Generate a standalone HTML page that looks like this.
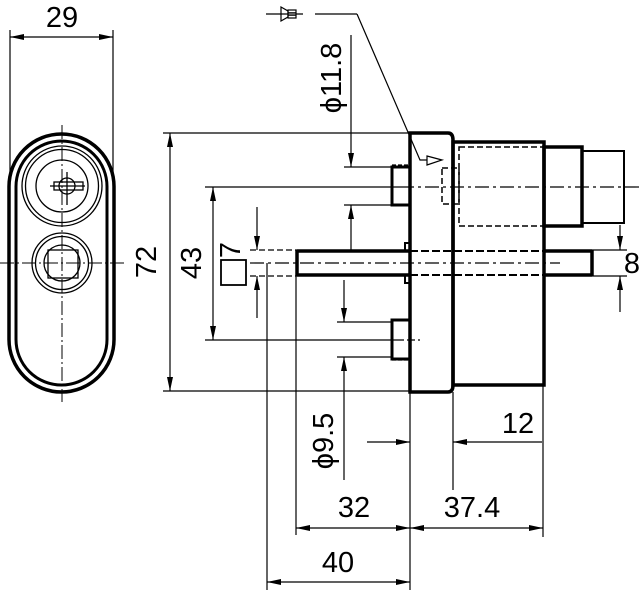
<!DOCTYPE html>
<html><head><meta charset="utf-8"><style>
html,body{margin:0;padding:0;background:#fff;}
svg{display:block;}
text{font-family:"Liberation Sans",sans-serif;font-size:29px;fill:#000;}
</style></head><body>
<svg width="639" height="590" viewBox="0 0 639 590" xmlns="http://www.w3.org/2000/svg">
<defs>
<marker id="a" viewBox="0 0 14 6" refX="14" refY="3" markerWidth="14" markerHeight="6" markerUnits="userSpaceOnUse" orient="auto-start-reverse">
<path d="M0,0 L14,3 L0,6 Z" fill="#000"/>
</marker>
</defs>
<g stroke="#000" fill="none">
<!-- LEFT VIEW -->
<rect x="9" y="134" width="105" height="258" rx="52.5" ry="52.5" stroke-width="3.5"/>
<rect x="16" y="141" width="91" height="244" rx="45.5" ry="45.5" stroke-width="3"/>
<circle cx="62" cy="186" r="40" stroke-width="1.3"/>
<circle cx="62" cy="186" r="36.5" stroke-width="1.3"/>
<circle cx="62" cy="186" r="26" stroke-width="1.3"/>
<circle cx="67" cy="186" r="8" stroke-width="1.3"/>
<rect x="54" y="182" width="29" height="8" stroke-width="1.3"/>
<line x1="67" y1="172" x2="67" y2="205" stroke-width="1.3"/>
<line x1="50" y1="186" x2="85" y2="186" stroke-width="1.3"/>
<circle cx="62" cy="263" r="30" stroke-width="1.3"/>
<circle cx="62" cy="263" r="26.5" stroke-width="1.3"/>
<circle cx="62" cy="263" r="18" stroke-width="1.3"/>
<rect x="48" y="250" width="30" height="28" stroke-width="1.3"/>
<line x1="62" y1="125" x2="62" y2="402" stroke-width="1" stroke-dasharray="14,3,2,3"/>
<line x1="0" y1="263" x2="125" y2="263" stroke-width="1" stroke-dasharray="14,3,2,3"/>
<line x1="20" y1="162" x2="104" y2="162" stroke-width="0"/>
<!-- 29 dim -->
<line x1="10" y1="30" x2="10" y2="180" stroke-width="1.2"/>
<line x1="113" y1="30" x2="113" y2="180" stroke-width="1.2"/>
<line x1="10" y1="37" x2="113" y2="37" stroke-width="1.2" marker-start="url(#a)" marker-end="url(#a)"/>

<!-- SIDE VIEW body -->
<path d="M410,133 H448 Q453,133 453,140 V385 Q453,392 448,392 H410 Z" stroke-width="3.5"/>
<rect x="453" y="142" width="91" height="243" stroke-width="3.5"/>
<rect x="544" y="147" width="38" height="79" stroke-width="3.5"/>
<rect x="582" y="151" width="42" height="72" stroke-width="2"/>
<rect x="459" y="147" width="85" height="79" stroke-width="1.5" stroke-dasharray="6,3"/>
<rect x="442" y="168" width="17" height="36" stroke-width="1.5" stroke-dasharray="6,3"/>
<!-- nubs -->
<path d="M410,167 H392 V205 H410" stroke-width="3"/>
<path d="M410,320 H392 V359 H410" stroke-width="3"/>
<line x1="392" y1="165" x2="410" y2="165" stroke-width="1.2" stroke-dasharray="4,2"/>
<line x1="392" y1="360" x2="410" y2="360" stroke-width="1.2" stroke-dasharray="4,2"/>
<!-- shaft -->
<line x1="297" y1="251" x2="410" y2="251" stroke-width="3.5"/>
<line x1="297" y1="275" x2="410" y2="275" stroke-width="3.5"/>
<line x1="297" y1="249.5" x2="297" y2="276.5" stroke-width="3.5"/>
<line x1="410" y1="251" x2="544" y2="251" stroke-width="2" stroke-dasharray="8,3"/>
<line x1="410" y1="275" x2="544" y2="275" stroke-width="2" stroke-dasharray="8,3"/>
<line x1="544" y1="251" x2="592" y2="251" stroke-width="3.5"/>
<line x1="544" y1="275" x2="592" y2="275" stroke-width="3.5"/>
<line x1="592" y1="249.5" x2="592" y2="276.5" stroke-width="3.5"/>
<rect x="405" y="243" width="5" height="8" stroke-width="2"/>
<rect x="405" y="275" width="5" height="8" stroke-width="2"/>
<!-- centerlines -->
<line x1="205" y1="187" x2="400" y2="187" stroke-width="1.2"/>
<line x1="400" y1="187" x2="639" y2="187" stroke-width="1.2" stroke-dasharray="14,4,3,4"/>
<line x1="250" y1="263" x2="560" y2="263" stroke-width="1.2" stroke-dasharray="14,4,3,4"/>
<line x1="396" y1="340" x2="420" y2="340" stroke-width="1.2" stroke-dasharray="8,3"/>
<!-- leader/symbol -->
<line x1="266" y1="14" x2="303" y2="14" stroke-width="1.2"/>
<path d="M281,7 L288,11 L288,17 L281,21 Z" stroke-width="1.2"/>
<rect x="288" y="10" width="8" height="8" stroke-width="1.2"/>
<line x1="288" y1="12.5" x2="296" y2="12.5" stroke-width="0.8"/>
<line x1="288" y1="15.5" x2="296" y2="15.5" stroke-width="0.8"/>
<line x1="315" y1="14" x2="357" y2="14" stroke-width="1.2"/>
<polyline points="357,14 420,160 427,160" stroke-width="1.2"/>
<path d="M427,156 L442,160 L427,165 Z" stroke-width="1.2" fill="#fff"/>

<!-- 72 -->
<line x1="163" y1="133" x2="410" y2="133" stroke-width="1.2"/>
<line x1="163" y1="391" x2="410" y2="391" stroke-width="1.2"/>
<line x1="170" y1="133" x2="170" y2="391" stroke-width="1.2" marker-start="url(#a)" marker-end="url(#a)"/>
<!-- 43 -->
<line x1="205" y1="340" x2="396" y2="340" stroke-width="1.2"/>
<line x1="213" y1="187" x2="213" y2="340" stroke-width="1.2" marker-start="url(#a)" marker-end="url(#a)"/>
<!-- 7 -->
<line x1="250" y1="250" x2="297" y2="250" stroke-width="1.2" stroke-dasharray="6,3"/>
<line x1="250" y1="276" x2="297" y2="276" stroke-width="1.2" stroke-dasharray="6,3"/>
<line x1="257" y1="207" x2="257" y2="250" stroke-width="1.2" marker-end="url(#a)"/>
<line x1="257" y1="318" x2="257" y2="276" stroke-width="1.2" marker-end="url(#a)"/>
<rect x="221" y="260" width="25" height="25" stroke-width="1.8"/>
<!-- phi 11.8 -->
<line x1="344" y1="167" x2="392" y2="167" stroke-width="1.2"/>
<line x1="344" y1="205" x2="392" y2="205" stroke-width="1.2"/>
<line x1="351" y1="35" x2="351" y2="167" stroke-width="1.2" marker-end="url(#a)"/>
<line x1="351" y1="250" x2="351" y2="205" stroke-width="1.2" marker-end="url(#a)"/>
<!-- phi 9.5 -->
<line x1="337" y1="322" x2="392" y2="322" stroke-width="1.2"/>
<line x1="337" y1="357" x2="392" y2="357" stroke-width="1.2"/>
<line x1="344" y1="280" x2="344" y2="322" stroke-width="1.2" marker-end="url(#a)"/>
<line x1="344" y1="480" x2="344" y2="357" stroke-width="1.2" marker-end="url(#a)"/>
<!-- 8 -->
<line x1="592" y1="250" x2="627" y2="250" stroke-width="1.2"/>
<line x1="592" y1="276" x2="627" y2="276" stroke-width="1.2"/>
<line x1="620" y1="225" x2="620" y2="250" stroke-width="1.2" marker-end="url(#a)"/>
<line x1="620" y1="312" x2="620" y2="276" stroke-width="1.2" marker-end="url(#a)"/>
<!-- bottom extension lines -->
<line x1="267" y1="263" x2="267" y2="590" stroke-width="1.2"/>
<line x1="296" y1="276" x2="296" y2="535" stroke-width="1.2"/>
<line x1="410" y1="392" x2="410" y2="590" stroke-width="1.2"/>
<line x1="453" y1="392" x2="453" y2="490" stroke-width="1.2"/>
<line x1="543" y1="385" x2="543" y2="537" stroke-width="1.2"/>
<!-- 12 -->
<line x1="367" y1="442" x2="410" y2="442" stroke-width="1.2" marker-end="url(#a)"/>
<line x1="542" y1="442" x2="453" y2="442" stroke-width="1.2" marker-end="url(#a)"/>
<!-- 32 / 37.4 -->
<line x1="296" y1="528" x2="410" y2="528" stroke-width="1.2" marker-start="url(#a)" marker-end="url(#a)"/>
<line x1="410" y1="528" x2="543" y2="528" stroke-width="1.2" marker-start="url(#a)" marker-end="url(#a)"/>
<!-- 40 -->
<line x1="267" y1="582" x2="410" y2="582" stroke-width="1.2" marker-start="url(#a)" marker-end="url(#a)"/>
</g>
<g>
<text x="62" y="27" text-anchor="middle">29</text>
<text transform="translate(156,262) rotate(-90)" text-anchor="middle">72</text>
<text transform="translate(201,263) rotate(-90)" text-anchor="middle">43</text>
<text transform="translate(240,250) rotate(-90)" text-anchor="middle">7</text>
<text transform="translate(341,78) rotate(-90)" text-anchor="middle">ϕ11.8</text>
<text transform="translate(333,441) rotate(-90)" text-anchor="middle">ϕ9.5</text>
<text x="518" y="433" text-anchor="middle">12</text>
<text x="354" y="517" text-anchor="middle">32</text>
<text x="472" y="517" text-anchor="middle">37.4</text>
<text x="338" y="572" text-anchor="middle">40</text>
<text x="632" y="273" text-anchor="middle">8</text>
</g>
</svg>
</body></html>
